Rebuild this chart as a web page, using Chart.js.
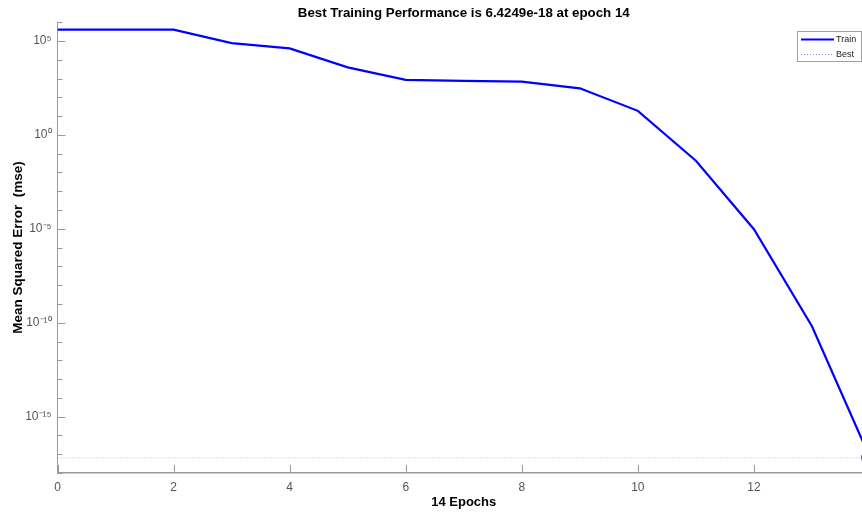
<!DOCTYPE html>
<html>
<head>
<meta charset="utf-8">
<script src="https://cdn.jsdelivr.net/npm/chart.js@4"></script>
<style>
  html, body { margin: 0; padding: 0; background: #fff; overflow: hidden; }
  #wrap { width: 890px; height: 515px; }
</style>
</head>
<body>
<div id="wrap"><canvas id="perfChart" width="890" height="515"></canvas></div>
<script>
// data
const epochs = [0, 1, 2, 3, 4, 5, 6, 7, 8, 9, 10, 11, 12, 13, 14];
const trainMse = [4e5, 4e5, 4e5, 7.6e4, 4e4, 3.9e3, 8.5e2, 7.4e2, 6.9e2, 3e2, 19, 0.042, 9.5e-6, 6.5e-11, 6.4249e-18];
const bestEpoch = 14;
const bestPerf = 6.4249e-18;

const xTickValues = [0, 2, 4, 6, 8, 10, 12, 14];
const yTickValues = [1e-15, 1e-10, 1e-5, 1e0, 1e5];
const yTickLabels = ["10\u207B\u00B9\u2075", "10\u207B\u00B9\u2070", "10\u207B\u2075", "10\u2070", "10\u2075"];
const yMinorExp = [-18, -17, -16, -14, -13, -12, -11, -9, -8, -7, -6, -4, -3, -2, -1, 1, 2, 3, 4, 6];

const FONT = "'Liberation Sans', Arial, Helvetica, sans-serif";
const AXIS_GRAY = "#9a9a9a";

// inside tick marks, drawn like MATLAB does
const tickPlugin = {
  id: "insideTicks",
  afterDraw(chart) {
    const ctx = chart.ctx;
    const x = chart.scales.x, y = chart.scales.y;
    const a = chart.chartArea;
    ctx.save();
    ctx.strokeStyle = AXIS_GRAY;
    ctx.lineWidth = 1;
    ctx.beginPath();
    xTickValues.forEach(v => {
      const px = Math.round(x.getPixelForValue(v)) + 0.5;
      ctx.moveTo(px, a.bottom);
      ctx.lineTo(px, a.bottom - 8);
    });
    yTickValues.forEach(v => {
      const py = Math.round(y.getPixelForValue(v)) + 0.5;
      ctx.moveTo(a.left, py);
      ctx.lineTo(a.left + 8, py);
    });
    yMinorExp.forEach(e => {
      const py = Math.round(y.getPixelForValue(Math.pow(10, e))) + 0.5;
      ctx.moveTo(a.left, py);
      ctx.lineTo(a.left + 5, py);
    });
    ctx.stroke();

    // legend box
    const bx = 797.5, by = 31.5, bw = 64, bh = 30;
    ctx.fillStyle = "#fff";
    ctx.fillRect(bx, by, bw, bh);
    ctx.strokeStyle = "#a0a0a0";
    ctx.strokeRect(bx, by, bw, bh);
    ctx.strokeStyle = "#0000ff";
    ctx.lineWidth = 2;
    ctx.beginPath();
    ctx.moveTo(801, 39.5); ctx.lineTo(834, 39.5);
    ctx.stroke();
    ctx.strokeStyle = "rgba(90,90,230,0.7)";
    ctx.lineWidth = 1;
    ctx.setLineDash([1, 2]);
    ctx.beginPath();
    ctx.moveTo(801, 54.5); ctx.lineTo(834, 54.5);
    ctx.stroke();
    ctx.setLineDash([]);
    ctx.fillStyle = "#222";
    ctx.font = "9px " + FONT;
    ctx.textBaseline = "middle";
    ctx.textAlign = "left";
    ctx.fillText("Train", 836, 40);
    ctx.fillText("Best", 836, 55);
    ctx.restore();
  }
};

new Chart(document.getElementById("perfChart"), {
  type: "line",
  data: {
    datasets: [
      {
        label: "Train",
        data: epochs.map((e, i) => ({ x: e, y: trainMse[i] })),
        borderColor: "#0000ff",
        borderWidth: 2.2,
        pointRadius: 0,
        tension: 0
      },
      {
        label: "Best",
        data: [{ x: 0, y: bestPerf }, { x: 14, y: bestPerf }],
        borderColor: "rgba(90,90,230,0.45)",
        borderWidth: 1,
        borderDash: [1, 2],
        pointRadius: 0
      },
      {
        label: "Best point",
        data: [{ x: bestEpoch, y: bestPerf }],
        showLine: false,
        pointRadius: 8,
        pointBorderWidth: 1.5,
        pointBorderColor: "#1a1a5a",
        pointBackgroundColor: "rgba(0,0,0,0)",
        clip: false
      }
    ]
  },
  options: {
    responsive: false,
    devicePixelRatio: 1,
    animation: false,
    layout: { padding: { left: 0, right: 20, top: 0, bottom: 0 } },
    plugins: {
      legend: { display: false },
      tooltip: { enabled: false },
      title: {
        display: true,
        fullSize: false,
        text: "Best Training Performance is 6.4249e-18 at epoch 14",
        color: "#000",
        font: { family: FONT, size: 13.3, weight: "bold" },
        padding: { top: 5, bottom: 1.2 }
      }
    },
    scales: {
      x: {
        type: "linear",
        min: 0,
        max: 14,
        afterFit: s => { s.height = 42; },
        afterBuildTicks: s => { s.ticks = xTickValues.map(v => ({ value: v })); },
        grid: { display: false, drawTicks: false },
        border: { display: true, color: AXIS_GRAY, width: 1.5 },
        ticks: {
          color: "#555",
          font: { family: FONT, size: 12 },
          padding: 7,
          maxRotation: 0,
          callback: v => String(v)
        },
        title: {
          display: true,
          text: "14 Epochs",
          color: "#000",
          font: { family: FONT, size: 13, weight: "bold" },
          padding: { top: 0, bottom: 5 }
        }
      },
      y: {
        type: "logarithmic",
        min: 1e-18,
        max: 1e6,
        afterFit: s => { s.width = 57.5; },
        afterBuildTicks: s => { s.ticks = yTickValues.map(v => ({ value: v })); },
        grid: { display: false, drawTicks: false },
        border: { display: true, color: AXIS_GRAY, width: 1 },
        ticks: {
          color: "#555",
          font: { family: FONT, size: 12 },
          padding: 6,
          callback: v => {
            const i = yTickValues.findIndex(t => Math.abs(Math.log10(t) - Math.log10(v)) < 1e-6);
            return i >= 0 ? yTickLabels[i] : "";
          }
        },
        title: {
          display: true,
          text: "Mean Squared Error  (mse)",
          color: "#000",
          font: { family: FONT, size: 13.5, weight: "bold" },
          padding: { top: 10, bottom: 0 }
        }
      }
    }
  },
  plugins: [tickPlugin]
});
</script>
</body>
</html>
